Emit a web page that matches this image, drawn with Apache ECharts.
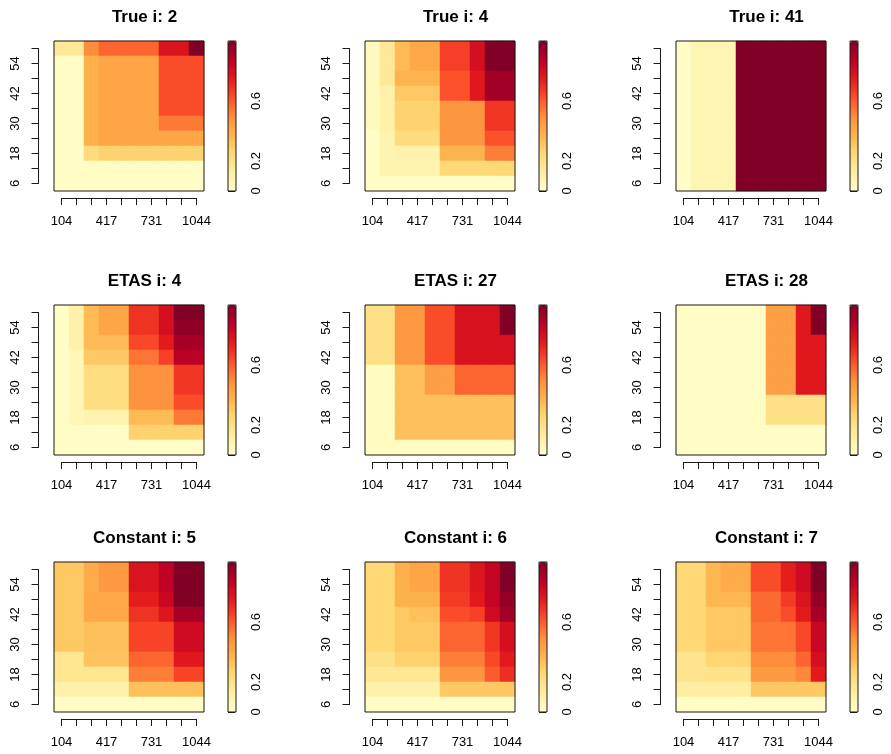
<!DOCTYPE html>
<html><head><meta charset="utf-8">
<script src="https://cdn.jsdelivr.net/npm/echarts@6/dist/echarts.min.js"></script>
<style>html,body{margin:0;padding:0;background:#fff}#c{width:891px;height:754px}</style>
</head><body><div id="c"></div>
<script>
// ---------- data ----------
const xLabels = ['104','209','313','417','522','626','731','835','940','1044'];
const yLabels = ['6','12','18','24','30','36','42','48','54','60'];
const colorbarTicks = [0, 0.2, 0.4, 0.6, 0.8];
const colorbarLabels = [0, 0.2, 0.6];
const titles = ['True i: 2','True i: 4','True i: 41','ETAS i: 4','ETAS i: 27','ETAS i: 28','Constant i: 5','Constant i: 6','Constant i: 7'];
const palette = ['#FFFFCC','#FFEDA0','#FED976','#FEB24C','#FD8D3C','#FC4E2A','#E31A1C','#BD0026','#800026'];

// each matrix: rows from top (y = 60) to bottom (y = 6), columns x = 104 ... 1044
const trueI2 = [
  [0.15,0.15,0.50,0.58,0.58,0.58,0.58,0.78,0.78,1.00],
  [0.02,0.02,0.38,0.42,0.42,0.42,0.42,0.63,0.63,0.63],
  [0.02,0.02,0.38,0.42,0.42,0.42,0.42,0.63,0.63,0.63],
  [0.02,0.02,0.38,0.42,0.42,0.42,0.42,0.63,0.63,0.63],
  [0.02,0.02,0.38,0.42,0.42,0.42,0.42,0.63,0.63,0.63],
  [0.02,0.02,0.38,0.42,0.42,0.42,0.42,0.54,0.54,0.54],
  [0.02,0.02,0.38,0.42,0.42,0.42,0.42,0.42,0.42,0.42],
  [0.02,0.02,0.23,0.27,0.27,0.27,0.27,0.27,0.27,0.27],
  [0.02,0.02,0.02,0.02,0.02,0.02,0.02,0.02,0.02,0.02],
  [0.02,0.02,0.02,0.02,0.02,0.02,0.02,0.02,0.02,0.02]
];
const trueI4 = [
  [0.04,0.15,0.35,0.41,0.41,0.66,0.66,0.80,1.00,1.00],
  [0.04,0.15,0.35,0.41,0.41,0.66,0.66,0.80,1.00,1.00],
  [0.04,0.15,0.37,0.37,0.37,0.62,0.62,0.76,0.93,0.93],
  [0.04,0.10,0.30,0.30,0.30,0.62,0.62,0.76,0.93,0.93],
  [0.04,0.10,0.27,0.27,0.27,0.47,0.47,0.47,0.68,0.68],
  [0.04,0.10,0.27,0.27,0.27,0.47,0.47,0.47,0.68,0.68],
  [0.02,0.08,0.23,0.23,0.23,0.47,0.47,0.47,0.62,0.62],
  [0.02,0.08,0.09,0.09,0.09,0.37,0.37,0.37,0.53,0.53],
  [0.02,0.08,0.08,0.08,0.08,0.25,0.25,0.25,0.25,0.25],
  [0.02,0.02,0.02,0.02,0.02,0.02,0.02,0.02,0.02,0.02]
];
const trueI41 = [
  [0.02,0.07,0.07,0.07,1.00,1.00,1.00,1.00,1.00,1.00],
  [0.02,0.07,0.07,0.07,1.00,1.00,1.00,1.00,1.00,1.00],
  [0.02,0.07,0.07,0.07,1.00,1.00,1.00,1.00,1.00,1.00],
  [0.02,0.07,0.07,0.07,1.00,1.00,1.00,1.00,1.00,1.00],
  [0.02,0.07,0.07,0.07,1.00,1.00,1.00,1.00,1.00,1.00],
  [0.02,0.07,0.07,0.07,1.00,1.00,1.00,1.00,1.00,1.00],
  [0.02,0.07,0.07,0.07,1.00,1.00,1.00,1.00,1.00,1.00],
  [0.02,0.07,0.07,0.07,1.00,1.00,1.00,1.00,1.00,1.00],
  [0.02,0.07,0.07,0.07,1.00,1.00,1.00,1.00,1.00,1.00],
  [0.02,0.07,0.07,0.07,1.00,1.00,1.00,1.00,1.00,1.00]
];
const etasI4 = [
  [0.02,0.10,0.35,0.42,0.42,0.69,0.69,0.80,1.00,1.00],
  [0.02,0.10,0.35,0.42,0.42,0.69,0.69,0.80,0.97,0.97],
  [0.02,0.10,0.35,0.35,0.35,0.64,0.64,0.75,0.92,0.92],
  [0.02,0.06,0.30,0.30,0.30,0.55,0.55,0.66,0.88,0.88],
  [0.02,0.06,0.22,0.22,0.22,0.48,0.48,0.48,0.68,0.68],
  [0.02,0.06,0.22,0.22,0.22,0.48,0.48,0.48,0.68,0.68],
  [0.02,0.06,0.22,0.22,0.22,0.48,0.48,0.48,0.63,0.63],
  [0.02,0.06,0.08,0.08,0.08,0.35,0.35,0.35,0.54,0.54],
  [0.02,0.02,0.02,0.02,0.02,0.27,0.27,0.27,0.27,0.27],
  [0.02,0.02,0.02,0.02,0.02,0.02,0.02,0.02,0.02,0.02]
];
const etasI27 = [
  [0.20,0.20,0.46,0.46,0.63,0.63,0.79,0.79,0.79,1.00],
  [0.20,0.20,0.46,0.46,0.63,0.63,0.79,0.79,0.79,1.00],
  [0.20,0.20,0.46,0.46,0.63,0.63,0.79,0.79,0.79,0.79],
  [0.20,0.20,0.46,0.46,0.63,0.63,0.79,0.79,0.79,0.79],
  [0.03,0.03,0.33,0.33,0.44,0.44,0.58,0.58,0.58,0.58],
  [0.03,0.03,0.33,0.33,0.44,0.44,0.58,0.58,0.58,0.58],
  [0.03,0.03,0.33,0.33,0.33,0.33,0.33,0.33,0.33,0.33],
  [0.03,0.03,0.33,0.33,0.33,0.33,0.33,0.33,0.33,0.33],
  [0.03,0.03,0.33,0.33,0.33,0.33,0.33,0.33,0.33,0.33],
  [0.03,0.03,0.03,0.03,0.03,0.03,0.03,0.03,0.03,0.03]
];
const etasI28 = [
  [0.02,0.02,0.02,0.02,0.02,0.02,0.44,0.44,0.76,1.00],
  [0.02,0.02,0.02,0.02,0.02,0.02,0.44,0.44,0.76,1.00],
  [0.02,0.02,0.02,0.02,0.02,0.02,0.44,0.44,0.76,0.76],
  [0.02,0.02,0.02,0.02,0.02,0.02,0.44,0.44,0.76,0.76],
  [0.02,0.02,0.02,0.02,0.02,0.02,0.44,0.44,0.76,0.76],
  [0.02,0.02,0.02,0.02,0.02,0.02,0.44,0.44,0.76,0.76],
  [0.02,0.02,0.02,0.02,0.02,0.02,0.20,0.20,0.20,0.20],
  [0.02,0.02,0.02,0.02,0.02,0.02,0.20,0.20,0.20,0.20],
  [0.02,0.02,0.02,0.02,0.02,0.02,0.02,0.02,0.02,0.02],
  [0.02,0.02,0.02,0.02,0.02,0.02,0.02,0.02,0.02,0.02]
];
const constI5 = [
  [0.30,0.30,0.40,0.46,0.46,0.78,0.78,0.87,1.00,1.00],
  [0.30,0.30,0.40,0.46,0.46,0.78,0.78,0.87,1.00,1.00],
  [0.30,0.30,0.41,0.41,0.41,0.74,0.74,0.84,1.00,1.00],
  [0.30,0.30,0.41,0.41,0.41,0.69,0.69,0.77,0.92,0.92],
  [0.30,0.30,0.33,0.33,0.33,0.65,0.65,0.65,0.82,0.82],
  [0.30,0.30,0.33,0.33,0.33,0.65,0.65,0.65,0.82,0.82],
  [0.17,0.17,0.32,0.32,0.32,0.58,0.58,0.58,0.76,0.76],
  [0.17,0.17,0.17,0.17,0.17,0.53,0.53,0.53,0.65,0.65],
  [0.10,0.10,0.10,0.10,0.10,0.33,0.33,0.33,0.33,0.33],
  [0.02,0.02,0.02,0.02,0.02,0.02,0.02,0.02,0.02,0.02]
];
const constI6 = [
  [0.25,0.25,0.38,0.42,0.42,0.69,0.69,0.77,0.85,1.00],
  [0.25,0.25,0.38,0.42,0.42,0.69,0.69,0.77,0.85,1.00],
  [0.25,0.25,0.38,0.38,0.38,0.67,0.67,0.75,0.85,0.96],
  [0.25,0.25,0.30,0.33,0.33,0.63,0.63,0.66,0.82,0.93],
  [0.25,0.25,0.30,0.30,0.30,0.58,0.58,0.58,0.68,0.80],
  [0.25,0.25,0.30,0.30,0.30,0.58,0.58,0.58,0.68,0.80],
  [0.20,0.20,0.27,0.27,0.27,0.53,0.53,0.53,0.64,0.75],
  [0.16,0.16,0.16,0.16,0.16,0.47,0.47,0.47,0.60,0.70],
  [0.10,0.10,0.10,0.10,0.10,0.30,0.30,0.30,0.30,0.30],
  [0.02,0.02,0.02,0.02,0.02,0.02,0.02,0.02,0.02,0.02]
];
const constI7 = [
  [0.25,0.25,0.36,0.40,0.40,0.63,0.63,0.74,0.82,1.00],
  [0.25,0.25,0.36,0.40,0.40,0.63,0.63,0.74,0.82,1.00],
  [0.25,0.25,0.36,0.36,0.36,0.57,0.57,0.67,0.78,0.96],
  [0.25,0.25,0.30,0.30,0.30,0.57,0.57,0.63,0.75,0.92],
  [0.25,0.25,0.30,0.30,0.30,0.55,0.55,0.55,0.64,0.84],
  [0.25,0.25,0.30,0.30,0.30,0.55,0.55,0.55,0.64,0.84],
  [0.18,0.18,0.26,0.26,0.26,0.50,0.50,0.50,0.58,0.80],
  [0.18,0.18,0.19,0.19,0.19,0.46,0.46,0.46,0.51,0.75],
  [0.12,0.12,0.12,0.12,0.12,0.30,0.30,0.30,0.30,0.30],
  [0.02,0.02,0.02,0.02,0.02,0.02,0.02,0.02,0.02,0.02]
];
const matrices = [trueI2, trueI4, trueI41, etasI4, etasI27, etasI28, constI5, constI6, constI7];

// ---------- layout ----------
const colLefts = [54, 365, 676];
const rowTops = [41, 305, 562];
const S = 150;             // plot box size (10 cells of 15 px)
const half = S / 20;       // half a cell
const FONT = 'Liberation Sans, Arial, Helvetica, sans-serif';
const INK = '#1a1a1a';

const option = {
  animation: false,
  backgroundColor: '#fff',
  title: [], grid: [], xAxis: [], yAxis: [], series: [], visualMap: []
};

matrices.forEach((m, i) => {
  const r = Math.floor(i / 3), c = i % 3;
  const L = colLefts[c], T = rowTops[r];
  const g0 = option.grid.length;

  // heatmap grid (box)
  option.grid.push({left: L, top: T, width: S, height: S, show: true, z: 3,
    backgroundColor: 'transparent', borderColor: INK, borderWidth: 1});
  option.xAxis.push({gridIndex: g0, type: 'category', data: xLabels, show: false});
  option.yAxis.push({gridIndex: g0, type: 'category', data: yLabels, show: false});

  const data = [];
  m.forEach((row, ri) => row.forEach((v, ci) => data.push([ci, m.length - 1 - ri, v])));
  option.series.push({type: 'heatmap', xAxisIndex: g0, yAxisIndex: g0, data: data,
    emphasis: {disabled: true}, silent: true, progressive: 0});

  // R-style axis grid (spans first to last tick)
  option.grid.push({left: L + half, top: T + half, width: S - 2 * half, height: S - 2 * half});
  const lineStyle = {color: INK, width: 1};
  option.xAxis.push({gridIndex: g0 + 1, type: 'category', data: xLabels, boundaryGap: false,
    position: 'bottom', offset: half + 7,
    axisLine: {show: true, lineStyle}, axisTick: {show: true, interval: 0, length: 7, lineStyle},
    axisLabel: {interval: 2, margin: 16.5, fontSize: 13, color: '#000', fontFamily: FONT},
    splitLine: {show: false}});
  option.yAxis.push({gridIndex: g0 + 1, type: 'category', data: yLabels, boundaryGap: false,
    position: 'left', offset: half + 15.5,
    axisLine: {show: true, lineStyle}, axisTick: {show: true, interval: 0, length: 7, lineStyle},
    axisLabel: {interval: 1, rotate: 90, margin: 17, fontSize: 13, color: '#000', fontFamily: FONT},
    splitLine: {show: false}});

  // colour bar
  const cbL = L + S + 24, cbW = 8;
  option.visualMap.push({type: 'continuous', seriesIndex: i, min: 0, max: 1,
    calculable: false, hoverLink: false, orient: 'vertical', left: cbL, top: T,
    itemWidth: cbW, itemHeight: S, padding: 0, text: null, showLabel: false,
    inRange: {color: palette}});
  option.grid.push({left: cbL, top: T, width: cbW, height: S, show: true, z: 10,
    backgroundColor: 'transparent', borderColor: INK, borderWidth: 1});
  option.xAxis.push({gridIndex: g0 + 2, type: 'value', show: false});
  option.yAxis.push({gridIndex: g0 + 2, type: 'value', min: 0, max: 1, position: 'right',
    axisLine: {show: false},
    axisTick: {show: true, length: 7, lineStyle, customValues: colorbarTicks},
    axisLabel: {rotate: 90, margin: 14, fontSize: 13, color: '#000', fontFamily: FONT,
      customValues: colorbarLabels, formatter: v => String(v)},
    splitLine: {show: false}});

  // title
  option.title.push({text: titles[i], left: L + 90.5, top: T - 32, textAlign: 'center', padding: 0,
    textStyle: {fontSize: 17, fontWeight: 'bold', color: '#000', fontFamily: FONT}});
});

const chart = echarts.init(document.getElementById('c'), null, {renderer: 'canvas'});
chart.setOption(option);
</script>
</body></html>
